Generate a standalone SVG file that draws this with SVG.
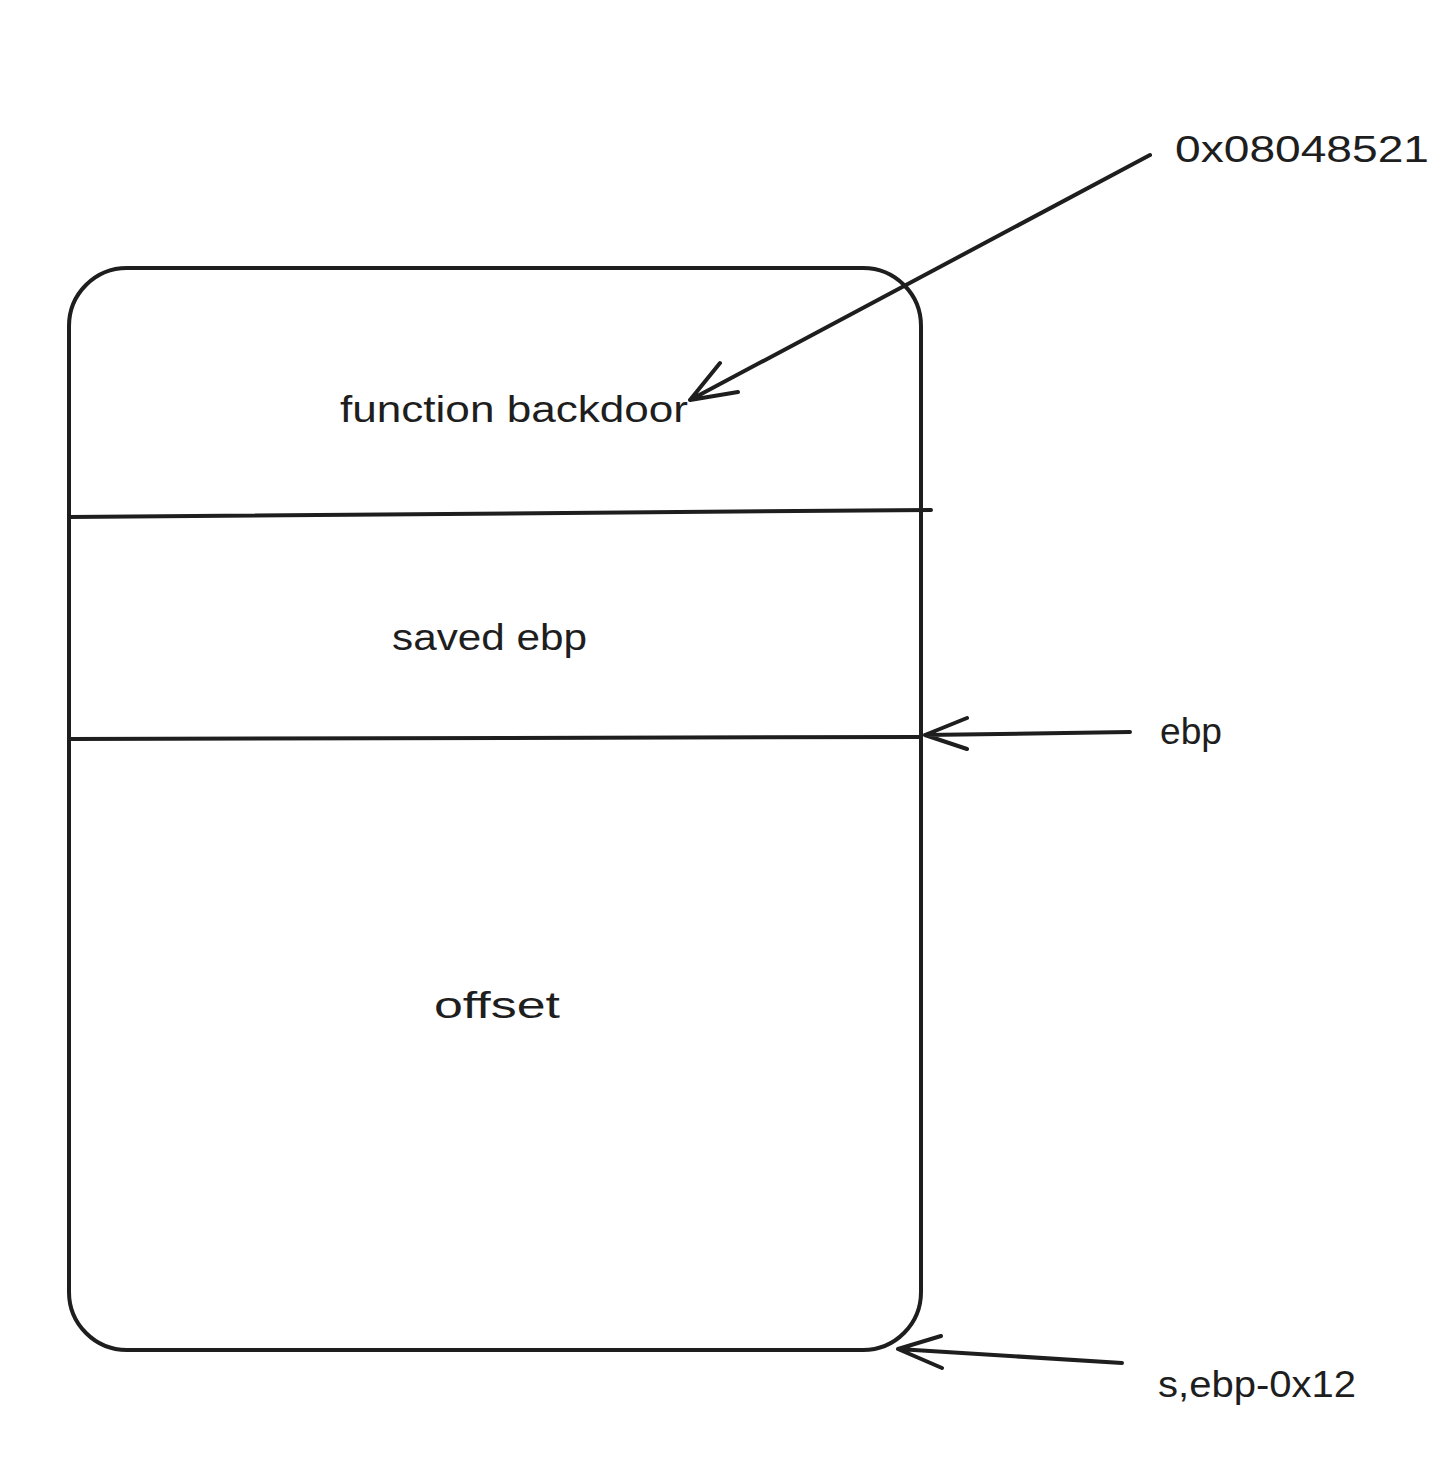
<svg xmlns="http://www.w3.org/2000/svg" width="1450" height="1462" viewBox="0 0 1450 1462">
<style>
.s{fill:none;stroke:#1e1e1e;stroke-width:4;stroke-linecap:round;stroke-linejoin:round}
.t{font-family:"Liberation Sans",sans-serif;font-size:36px;fill:#1e1e1e}
</style>
<rect width="1450" height="1462" fill="#fff"/>
<g id="stack">
<rect class="s" x="69" y="268" width="852" height="1082" rx="58"/>
<line class="s" x1="69" y1="517" x2="931" y2="510"/>
<line class="s" x1="69" y1="739" x2="921" y2="737"/>
</g>
<g id="backdoor"><text class="t" x="340" y="422" textLength="348" lengthAdjust="spacingAndGlyphs">function backdoor</text></g>
<g id="savedebp"><text class="t" x="392" y="650" textLength="195" lengthAdjust="spacingAndGlyphs">saved ebp</text></g>
<g id="offset"><text class="t" x="434" y="1018" textLength="126" lengthAdjust="spacingAndGlyphs">offset</text></g>
<g id="addr"><text class="t" x="1175" y="162" textLength="254" lengthAdjust="spacingAndGlyphs">0x08048521</text></g>
<g id="ebp"><text class="t" x="1160" y="744" textLength="62" lengthAdjust="spacingAndGlyphs">ebp</text></g>
<g id="s"><text class="t" x="1158" y="1397" textLength="198" lengthAdjust="spacingAndGlyphs">s,ebp-0x12</text></g>
<g id="connectors">
<path class="s" d="M1150 155 L690 400 M690 400 L720 363 M690 400 L738 392"/>
<path class="s" d="M1130 732 L925 735 M925 735 L967 718 M925 735 L967 749"/>
<path class="s" d="M1122 1363 L898 1349 M898 1349 L941 1336 M898 1349 L942 1368"/>
</g>
</svg>
